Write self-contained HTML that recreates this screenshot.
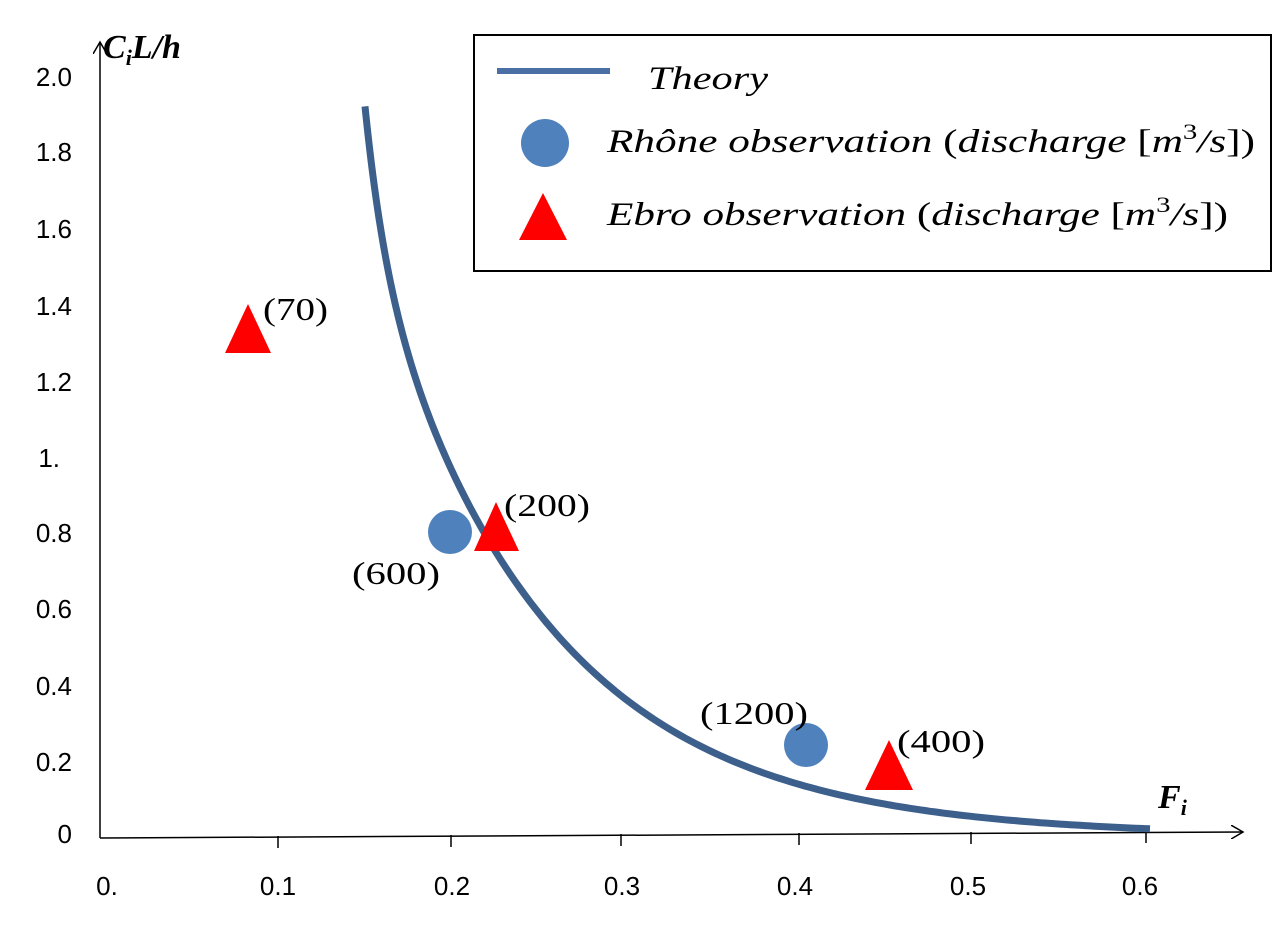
<!DOCTYPE html>
<html><head><style>body{margin:0;background:#fff}svg{display:block}</style></head><body>
<svg width="1279" height="938" xmlns="http://www.w3.org/2000/svg" font-family="Liberation Sans, sans-serif">
<rect width="1279" height="938" fill="#fff"/>
<defs><marker id="a" markerWidth="14" markerHeight="14" refX="12" refY="7" orient="auto" markerUnits="userSpaceOnUse"><path d="M0,0 L12,7 L0,14" fill="none" stroke="#000" stroke-width="1.5"/></marker></defs>
<line x1="100" y1="838" x2="100" y2="42" stroke="#000" stroke-width="1.5" marker-end="url(#a)"/>
<line x1="100" y1="838" x2="1243" y2="832" stroke="#000" stroke-width="1.5" marker-end="url(#a)"/>
<g stroke="#000" stroke-width="1.5">
<line x1="278" y1="836" x2="278" y2="848"/><line x1="451" y1="835" x2="451" y2="847"/><line x1="621" y1="834" x2="621" y2="846"/><line x1="799" y1="833" x2="799" y2="845"/><line x1="971" y1="832" x2="971" y2="844"/><line x1="1146" y1="831" x2="1146" y2="843"/>
</g>
<g font-size="26" fill="#000" text-anchor="end">
<text x="72" y="86">2.0</text><text x="72" y="161">1.8</text><text x="72" y="238">1.6</text><text x="72" y="315">1.4</text><text x="72" y="391">1.2</text><text x="60" y="467">1.</text><text x="72" y="542">0.8</text><text x="72" y="618">0.6</text><text x="72" y="695">0.4</text><text x="72" y="771">0.2</text><text x="72" y="843">0</text>
</g>
<g font-size="26" fill="#000" text-anchor="middle">
<text x="107" y="895">0.</text><text x="278" y="895">0.1</text><text x="452" y="895">0.2</text><text x="622" y="895">0.3</text><text x="795" y="895">0.4</text><text x="968" y="895">0.5</text><text x="1140" y="895">0.6</text>
</g>
<text x="103" y="58" font-family="Liberation Serif, serif" font-size="34" font-weight="bold" font-style="italic">C<tspan font-size="22" dy="7">i</tspan><tspan dy="-7">L/h</tspan></text>
<text x="1158" y="808" font-family="Liberation Serif, serif" font-size="34" font-weight="bold" font-style="italic">F<tspan font-size="22" dy="7">i</tspan></text>
<polyline id="curve" fill="none" stroke="#3c5f8c" stroke-width="7" stroke-linejoin="round" points=""/>
<circle cx="450" cy="532" r="22" fill="#4f81bd"/>
<circle cx="806" cy="745" r="22" fill="#4f81bd"/>
<polygon points="496,502 474,551 519,551" fill="#f00"/>
<polygon points="889,740 865,790 913,790" fill="#f00"/>
<polygon points="248,304 225,353 271,353" fill="#f00"/>
<g font-family="Liberation Serif, serif" font-size="32" fill="#000">
<text x="263" y="320" textLength="65" lengthAdjust="spacingAndGlyphs">(70)</text>
<text x="504" y="516" textLength="86" lengthAdjust="spacingAndGlyphs">(200)</text>
<text x="352" y="584" textLength="88" lengthAdjust="spacingAndGlyphs">(600)</text>
<text x="700" y="724" textLength="108" lengthAdjust="spacingAndGlyphs">(1200)</text>
<text x="897" y="752" textLength="88" lengthAdjust="spacingAndGlyphs">(400)</text>
</g>
<rect x="474" y="35" width="797" height="236" fill="#fff" stroke="#000" stroke-width="2"/>
<line x1="497" y1="71" x2="610" y2="71" stroke="#4a6fa5" stroke-width="6"/>
<circle cx="545" cy="143" r="24" fill="#4f81bd"/>
<polygon points="543,193 519,240 567,240" fill="#f00"/>
<g font-family="Liberation Serif, serif" font-size="33" font-style="italic" fill="#000">
<text x="648" y="89" textLength="120" lengthAdjust="spacingAndGlyphs">Theory</text>
<text x="607" y="152" textLength="648" lengthAdjust="spacingAndGlyphs">Rhône observation <tspan font-style="normal">(</tspan>discharge <tspan font-style="normal">[</tspan>m<tspan font-size="22" dy="-13" font-style="normal">3</tspan><tspan dy="13">/s</tspan><tspan font-style="normal">])</tspan></text>
<text x="607" y="225" textLength="621" lengthAdjust="spacingAndGlyphs">Ebro observation <tspan font-style="normal">(</tspan>discharge <tspan font-style="normal">[</tspan>m<tspan font-size="22" dy="-13" font-style="normal">3</tspan><tspan dy="13">/s</tspan><tspan font-style="normal">])</tspan></text>
</g>
</svg>
<script>
var s=[];
for(var u=365;u<=1150;u+=(u<460?1:5)){
var v=367*Math.exp(-(u-450)/178)+138*Math.exp(-(u-365)/21)+2;
s.push(u+","+(838-v).toFixed(1));}
document.getElementById("curve").setAttribute("points",s.join(" "));
</script>
</body></html>
